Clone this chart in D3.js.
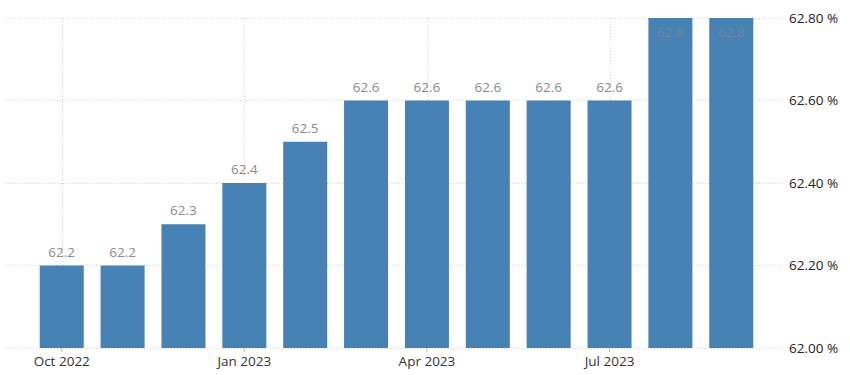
<!DOCTYPE html>
<html>
<head>
<meta charset="utf-8">
<script src="https://cdn.jsdelivr.net/npm/d3@7"></script>
<style>
  html, body { margin: 0; padding: 0; background: #fff; }
  svg { display: block; }
  text { font-family: "Open Sans", "Noto Sans", sans-serif; }
</style>
</head>
<body>
<svg id="chart" width="850" height="375"></svg>
<script>
const months = ["Oct 2022","Nov 2022","Dec 2022","Jan 2023","Feb 2023","Mar 2023","Apr 2023","May 2023","Jun 2023","Jul 2023","Aug 2023","Sep 2023"];
const values = [62.2, 62.2, 62.3, 62.4, 62.5, 62.6, 62.6, 62.6, 62.6, 62.6, 62.8, 62.8];
const yTicks = [62.0, 62.2, 62.4, 62.6, 62.8];
const xTickMonths = ["Oct 2022", "Jan 2023", "Apr 2023", "Jul 2023"];

const svg = d3.select("#chart");
const gridLeft = 6, gridRight = 782;
const yTop = 18, yBottom = 348;

const x = d3.scaleBand()
  .domain(months)
  .range([31.3, 761.7])
  .paddingInner(0.277)
  .paddingOuter(0.1385);

const y = d3.scaleLinear().domain([62.0, 62.8]).range([yBottom, yTop]);

// horizontal grid
svg.append("g").selectAll("line").data(yTicks).join("line")
  .attr("x1", gridLeft).attr("x2", gridRight)
  .attr("y1", d => Math.round(y(d)) + 0.5).attr("y2", d => Math.round(y(d)) + 0.5)
  .attr("stroke", "#d0d0d0").attr("stroke-dasharray", "1,2").attr("stroke-width", 1);

// vertical grid
svg.append("g").selectAll("line").data(xTickMonths).join("line")
  .attr("x1", d => Math.round(x(d) + x.bandwidth() / 2) + 0.5)
  .attr("x2", d => Math.round(x(d) + x.bandwidth() / 2) + 0.5)
  .attr("y1", yTop).attr("y2", yBottom)
  .attr("stroke", "#d0d0d0").attr("stroke-dasharray", "1,2").attr("stroke-width", 1);

// bars
svg.append("g").selectAll("rect").data(values).join("rect")
  .attr("x", (d, i) => x(months[i]))
  .attr("width", x.bandwidth())
  .attr("y", d => y(d))
  .attr("height", d => y(62.0) - y(d))
  .attr("fill", "#4682b4");

// value labels
svg.append("g").selectAll("text").data(values).join("text")
  .attr("x", (d, i) => x(months[i]) + x.bandwidth() / 2)
  .attr("y", d => (y(d) - 20 < 0) ? y(d) + 19 : y(d) - 9)
  .attr("text-anchor", "middle")
  .attr("font-size", "13.5px")
  .attr("fill", d => (y(d) - 20 < 0) ? "#6a87a3" : "#8a8a8a")
  .text(d => d.toFixed(1));

// x axis ticks and labels
const xAxis = d3.axisBottom(x).tickValues(xTickMonths).tickSize(4).tickPadding(3);
const gx = svg.append("g").attr("transform", `translate(0,${yBottom})`).call(xAxis);
gx.select(".domain").remove();
gx.selectAll(".tick line").attr("stroke", "#bbb");
gx.selectAll(".tick text").attr("font-size", "13.5px").attr("fill", "#333")
  .attr("font-family", "'Open Sans','Noto Sans',sans-serif").attr("dy", "0.85em");

// y axis labels
const yAxis = d3.axisRight(y).tickValues(yTicks).tickSize(0).tickPadding(0)
  .tickFormat(d => d.toFixed(2) + " %");
const gy = svg.append("g").attr("transform", "translate(789,0)").call(yAxis);
gy.select(".domain").remove();
gy.selectAll(".tick text").attr("font-size", "13.5px").attr("fill", "#222")
  .attr("font-family", "'Open Sans','Noto Sans',sans-serif");
</script>
</body>
</html>
